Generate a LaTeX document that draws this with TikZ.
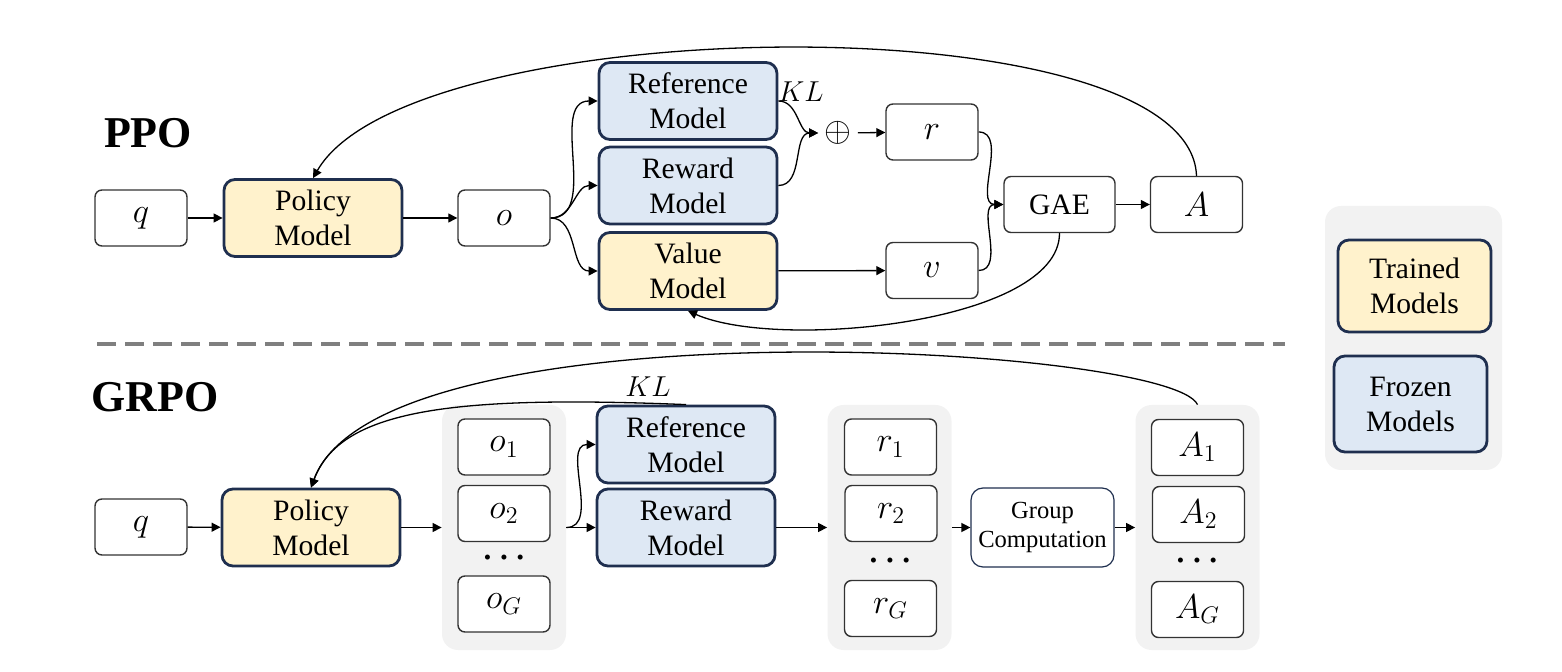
\documentclass[tikz,border=0pt]{standalone}
\usepackage{fontspec}
\setmainfont{Liberation Serif}
\usetikzlibrary{arrows.meta,calc}
\definecolor{navy}{HTML}{1F2F4F}
\definecolor{trained}{HTML}{FFF2CC}
\definecolor{frozen}{HTML}{DEE8F4}
\definecolor{grpbg}{HTML}{F2F2F2}
\definecolor{boxline}{HTML}{333333}
\definecolor{dashgray}{HTML}{7F7F7F}
\begin{document}
\begin{tikzpicture}[x=0.5pt,y=-0.5pt,
 model/.style={draw=navy, line width=1.4pt, rounded corners=5.5pt, minimum width=89pt, minimum height=38.5pt, align=center, inner sep=0pt, font=\fontsize{14.8}{17.5}\selectfont},
 trainedbox/.style={model, fill=trained},
 frozenbox/.style={model, fill=frozen},
 plain/.style={draw=boxline, line width=0.7pt, fill=white, rounded corners=3.5pt, minimum width=46pt, minimum height=28pt, inner sep=0pt, font=\fontsize{17}{19}\selectfont},
 grp/.style={fill=grpbg, rounded corners=8pt, minimum width=62pt, minimum height=122.5pt, inner sep=0pt},
 arr/.style={-{Triangle[length=4.5pt,width=4.5pt]}, line width=0.65pt},
 dotsrow/.style={font=\fontsize{10.5}{10.5}\selectfont, inner sep=0pt},
 title/.style={font=\fontsize{22}{22}\selectfont\bfseries},
 kl/.style={font=\fontsize{14.5}{14.5}\selectfont, inner sep=0pt},
 dashline/.style={draw=dashgray, line width=2pt, dash pattern=on 9.5pt off 4.5pt},
]
\useasboundingbox (0,0) rectangle (1562,672);

% ---------- PPO ----------
\node[title] (ppo) at (148,133) {PPO};
\node[plain] (q1) at (141,218) {$q$};
\node[trainedbox] (pol1) at (313,218) {Policy\\Model};
\node[plain] (o1) at (504,218) {$o$};
\node[frozenbox] (ref1) at (688,101) {Reference\\Model};
\node[frozenbox] (rew1) at (688,185.5) {Reward\\Model};
\node[trainedbox] (val1) at (688,271) {Value\\Model};
\node[inner sep=3pt, font=\fontsize{18}{18}\selectfont] (plus) at (838,133) {$\oplus$};
\node[plain] (r1) at (932,132) {$r$};
\node[plain] (v1) at (932,270.5) {$v$};
\node[plain, minimum width=55.5pt, font=\fontsize{14.8}{17.5}\selectfont] (gae) at (1059.5,204.5) {GAE};
\node[plain] (a1) at (1196.5,204.5) {$A$};
\node[kl] (kl1) at (801,92) {$KL$};

\draw[arr] (q1) -- (pol1);
\draw[arr] (pol1) -- (o1);
\draw[arr] (o1.east) to[out=0,in=180] (ref1.west);
\draw[arr] (o1.east) to[out=0,in=180] (rew1.west);
\draw[arr] (o1.east) to[out=0,in=180] (val1.west);
\draw[arr] (ref1.east) to[out=0,in=180] (plus.west);
\draw[arr] (rew1.east) to[out=0,in=180] (plus.west);
\draw[arr] (plus) -- (r1);
\draw[arr] (val1) -- (v1);
\draw[arr] (r1.east) to[out=0,in=180] (gae.west);
\draw[arr] (v1.east) to[out=0,in=180] (gae.west);
\draw[arr] (gae) -- (a1);
\draw[arr] (a1.north) .. controls (1190,0) and (410,10) .. (pol1.north);
\draw[arr] (gae.south) .. controls +(0,90) and +(90,40) .. (val1.south);

% ---------- separator ----------
\coordinate (d1) at (97,344);
\coordinate (d2) at (1285,344);
\draw[dashline] (d1) -- (d2);

% ---------- GRPO ----------
\node[title] (grpo) at (155,397) {GRPO};
\node[plain] (q2) at (141,527) {$q$};
\node[trainedbox] (pol2) at (311,527.5) {Policy\\Model};

\node[grp] (og) at (504,527.5) {};
\node[plain] (o21) at (504,447) {$o_1$};
\node[plain] (o22) at (504,513.5) {$o_2$};
\node[dotsrow] (od) at (504,560) {•\hspace{4.5pt}•\hspace{4.5pt}•};
\node[plain] (o2G) at (504,604) {$o_G$};

\node[frozenbox] (ref2) at (686,444.5) {Reference\\Model};
\node[frozenbox] (rew2) at (686,527.5) {Reward\\Model};
\node[kl] (kl2) at (648,387) {$KL$};

\node[grp] (rg) at (889.5,527.5) {};
\node[plain] (r21) at (890.5,447) {$r_1$};
\node[plain] (r22) at (891,513.5) {$r_2$};
\node[dotsrow] (rd) at (890,563) {•\hspace{4.5pt}•\hspace{4.5pt}•};
\node[plain] (r2G) at (890.5,608.5) {$r_G$};

\node[plain, draw=navy, line width=0.6pt, minimum width=71.5pt, minimum height=39.5pt, rounded corners=6pt, align=center, font=\fontsize{12.3}{14.5}\selectfont] (gc) at (1042.5,527.5) {Group\\Computation};

\node[grp] (ag) at (1197.5,527.5) {};
\node[plain] (a21) at (1197.5,447.5) {$A_1$};
\node[plain] (a22) at (1198.5,514.5) {$A_2$};
\node[dotsrow] (ad) at (1197,563) {•\hspace{4.5pt}•\hspace{4.5pt}•};
\node[plain] (a2G) at (1197.5,609.5) {$A_G$};

\draw[arr] (q2) -- (pol2);
\draw[arr] (pol2) -- (og);
\draw[arr] (og.east) to[out=0,in=180] (ref2.west);
\draw[arr] (og.east) to[out=0,in=180] (rew2.west);
\draw[arr] (rew2) -- (rg);
\draw[arr] (rg) -- (gc);
\draw[arr] (gc) -- (ag);
\draw[arr] (ref2.north) .. controls (450,395) and (340,410) .. (pol2.north);
\draw[arr] (ag.north) .. controls (1170,345) and (380,300) .. (pol2.north);

% ---------- legend ----------
\node[grp, minimum width=88.5pt, minimum height=132pt] (leg) at (1413.5,338) {};
\node[trainedbox, minimum width=76.5pt, minimum height=46pt] (lt) at (1414.5,286) {Trained\\Models};
\node[frozenbox, minimum width=76.5pt, minimum height=48pt] (lf) at (1410.5,404) {Frozen\\Models};
\end{tikzpicture}
\end{document}
